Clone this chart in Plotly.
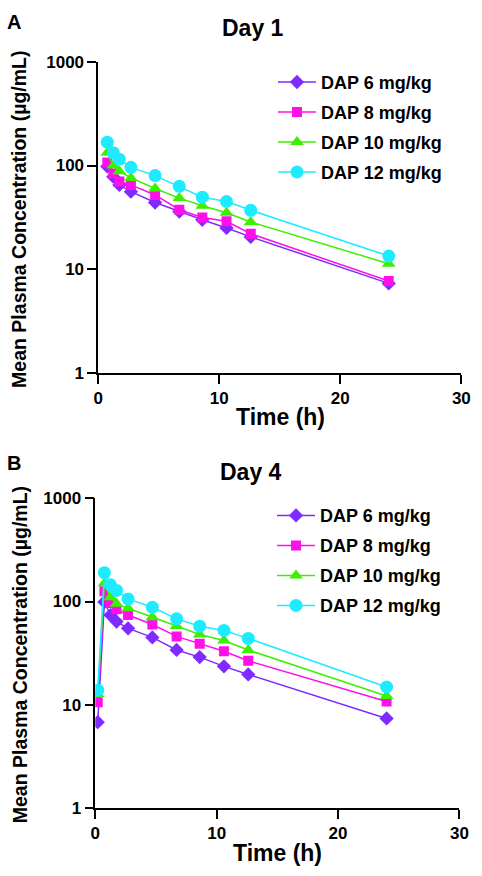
import plotly.graph_objects as go

# ---- data ----
series_names = ["DAP 6 mg/kg", "DAP 8 mg/kg", "DAP 10 mg/kg", "DAP 12 mg/kg"]

time_day1 = [0.75, 1.25, 1.75, 2.7, 4.7, 6.7, 8.6, 10.6, 12.6, 24]
dap6_day1 = [98, 78, 65, 56, 44, 36, 30, 25, 20.5, 7.3]
dap8_day1 = [107, 84, 70, 65, 52, 37.5, 31.5, 29, 22, 7.7]
dap10_day1 = [133, 100, 88, 76, 60, 48.5, 41, 35, 28.5, 11.3]
dap12_day1 = [168, 133, 115, 96, 80, 63, 49.5, 45, 37, 13.4]

time_day4 = [0.2, 0.75, 1.25, 1.75, 2.7, 4.7, 6.7, 8.6, 10.6, 12.6, 24]
dap6_day4 = [6.8, 99, 74, 64, 55, 45, 34, 29, 23.6, 19.7, 7.4]
dap8_day4 = [10.6, 126, 97, 84, 74, 60, 46, 39, 33, 26.7, 10.8]
dap10_day4 = [12.7, 150, 110, 95, 86, 70.5, 58, 48, 42, 34, 12.2]
dap12_day4 = [13.9, 190, 145, 128, 106, 88, 68, 57.7, 52.5, 44, 14.9]

x_ticks = [0, 10, 20, 30]
y_ticks = [1, 10, 100, 1000]
y_tick_labels = ["1", "10", "100", "1000"]

# ---- styles ----
colors = ["#7F2AFF", "#FF10E8", "#3CF000", "#1EEBFF"]
symbols = ["diamond", "square", "triangle-up", "circle"]
msizes = [11, 10, 12, 13]
FONT = "Arial, Liberation Sans, Helvetica, sans-serif"

W, H = 482, 876

fig = go.Figure()

day1 = [dap6_day1, dap8_day1, dap10_day1, dap12_day1]
day4 = [dap6_day4, dap8_day4, dap10_day4, dap12_day4]

for i, (name, ys) in enumerate(zip(series_names, day1)):
    fig.add_trace(go.Scatter(
        x=time_day1, y=ys, name=name, mode="lines+markers",
        line=dict(color=colors[i], width=1.5),
        marker=dict(symbol=symbols[i], size=msizes[i], color=colors[i]),
        xaxis="x", yaxis="y", legend="legend", legendgroup="a%d" % i,
    ))
for i, (name, ys) in enumerate(zip(series_names, day4)):
    fig.add_trace(go.Scatter(
        x=time_day4, y=ys, name=name, mode="lines+markers",
        line=dict(color=colors[i], width=1.5),
        marker=dict(symbol=symbols[i], size=msizes[i], color=colors[i]),
        xaxis="x2", yaxis="y2", legend="legend2", legendgroup="b%d" % i,
    ))


def px_x(p):
    return p / W


def px_y(p):
    return 1 - p / H


tickfont = dict(family=FONT, size=17, color="black", weight="bold")
xcommon = dict(range=[0, 30], tickvals=x_ticks, showline=True, linecolor="black",
               linewidth=1.5, ticks="outside", ticklen=9, tickwidth=1.5,
               tickcolor="black", showgrid=False, zeroline=False, tickfont=tickfont)
ycommon = dict(type="log", range=[0, 3], tickvals=y_ticks, ticktext=y_tick_labels,
               showline=True, linecolor="black", linewidth=1.5, ticks="outside",
               ticklen=9, tickwidth=1.5, tickcolor="black", showgrid=False,
               zeroline=False, tickfont=tickfont)

legfont = dict(family=FONT, size=18, color="black", weight="bold")

fig.update_layout(
    width=W, height=H,
    margin=dict(l=0, r=0, t=0, b=0),
    paper_bgcolor="white", plot_bgcolor="white",
    showlegend=True,
    xaxis=dict(domain=[px_x(96), px_x(470)], anchor="y", **xcommon),
    yaxis=dict(domain=[px_y(372), px_y(54)], anchor="x", **ycommon),
    xaxis2=dict(domain=[px_x(93), px_x(468)], anchor="y2", **xcommon),
    yaxis2=dict(domain=[px_y(817), px_y(500)], anchor="x2", **ycommon),
    legend=dict(x=px_x(276), y=px_y(56), xanchor="left", yanchor="top",
                font=legfont, bgcolor="rgba(0,0,0,0)", traceorder="grouped",
                tracegroupgap=3.6, itemwidth=38),
    legend2=dict(x=px_x(275), y=px_y(499), xanchor="left", yanchor="top",
                 font=legfont, bgcolor="rgba(0,0,0,0)", traceorder="grouped",
                 tracegroupgap=3.6, itemwidth=38),
)

ann = [
    dict(text="A", x=px_x(9), y=px_y(13), size=20),
    dict(text="Day 1", x=px_x(255), y=px_y(19), size=23),
    dict(text="Time (h)", x=px_x(284), y=px_y(417), size=23),
    dict(text="B", x=px_x(9), y=px_y(464), size=20),
    dict(text="Day 4", x=px_x(253), y=px_y(473), size=23),
    dict(text="Time (h)", x=px_x(281), y=px_y(863), size=23),
]
for a in ann:
    fig.add_annotation(text=a["text"], x=a["x"], y=a["y"], xref="paper", yref="paper",
                       xanchor="center", yanchor="middle", showarrow=False,
                       font=dict(family=FONT, size=a["size"], color="black", weight="bold"))

for yc in [215, 660]:
    fig.add_annotation(text="Mean Plasma Concentration (µg/mL)", x=px_x(15), y=px_y(yc),
                       xref="paper", yref="paper", xanchor="center", yanchor="middle",
                       textangle=-90, showarrow=False,
                       font=dict(family=FONT, size=19.5, color="black", weight="bold"))

post = (
    "document.documentElement.style.margin='0';"
    "document.documentElement.style.padding='0';"
    "document.documentElement.style.overflow='hidden';"
    "document.body.style.margin='0';"
    "document.body.style.padding='0';"
    "document.body.style.overflow='hidden';"
    "var gd=document.getElementById('{plot_id}');"
    "gd.style.position='fixed';gd.style.left='0px';gd.style.top='0px';"
)
fig.write_html("out.html", config={"displayModeBar": False}, post_script=post)
